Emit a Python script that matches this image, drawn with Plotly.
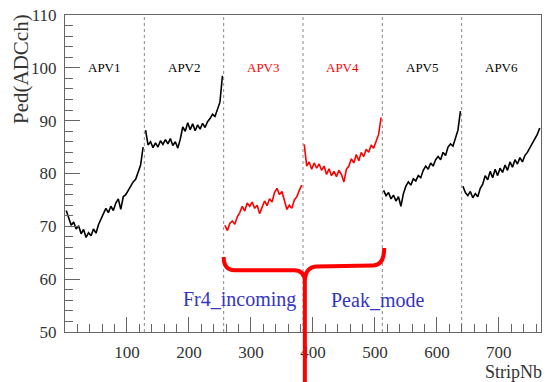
import plotly.graph_objects as go

# ---------------- data ----------------
apv_names = ["APV1", "APV2", "APV3", "APV4", "APV5", "APV6"]
apv_colors = ["black", "black", "red", "red", "black", "black"]
strips_per_apv = 128
step = 4  # one value read every 4 strips (bin centres)

apv1 = [73.0, 71.5, 70.2, 70.8, 69.5, 70.1, 68.6, 69.4, 67.9, 68.8, 68.2, 69.5, 68.7, 70.3, 71.2, 72.4,
        73.4, 72.6, 73.8, 73.0, 74.4, 75.2, 73.2, 75.6, 76.0, 76.9, 77.6, 78.4, 78.9, 80.2, 81.6, 85.0]
apv2 = [88.2, 85.4, 86.0, 84.9, 85.8, 85.0, 86.2, 85.5, 86.4, 85.6, 86.6, 85.3, 86.0, 84.8, 86.5, 88.8,
        88.0, 89.6, 88.3, 89.4, 88.1, 89.2, 88.4, 89.5, 88.7, 89.8, 90.4, 91.2, 90.8, 92.3, 93.5, 98.5]
apv3 = [70.2, 69.2, 70.6, 71.0, 70.4, 71.8, 72.6, 73.8, 72.9, 74.4, 73.8, 74.6, 73.4, 74.0, 72.4, 73.6,
        74.8, 73.9, 75.2, 74.6, 76.4, 77.2, 76.0, 76.6, 74.6, 73.2, 74.0, 73.4, 75.0, 75.6, 76.8, 77.8]
apv4 = [85.5, 81.4, 82.2, 80.8, 82.0, 81.0, 81.8, 80.6, 81.4, 79.8, 80.9, 79.6, 80.4, 79.4, 80.6, 79.8,
        78.4, 80.8, 81.4, 82.8, 82.0, 83.6, 82.4, 84.0, 83.2, 84.6, 84.0, 85.4, 84.8, 86.2, 87.4, 90.6]
apv5 = [76.8, 75.8, 76.4, 75.2, 75.9, 74.8, 75.6, 73.8, 76.2, 77.6, 78.4, 77.8, 79.0, 78.6, 79.6, 79.2,
        80.6, 81.4, 80.8, 82.0, 81.4, 82.6, 83.2, 82.6, 84.0, 83.4, 85.0, 85.6, 85.2, 86.8, 88.2, 91.8]
apv6 = [77.6, 76.4, 75.8, 76.6, 75.4, 76.2, 75.6, 77.2, 78.0, 79.6, 78.8, 80.4, 79.2, 80.8, 79.6, 81.0,
        80.2, 81.6, 80.6, 82.2, 81.2, 82.6, 81.8, 83.0, 82.2, 83.4, 84.0, 84.8, 85.6, 86.4, 87.4, 88.6]
apv_values = [apv1, apv2, apv3, apv4, apv5, apv6]

x_tickvals = [0, 100, 200, 300, 400, 500, 600, 700]
x_ticktext = ["", "100", "200", "300", "400", "500", "600", "700"]
y_tickvals = [50, 60, 70, 80, 90, 100, 110]

note_left = "Fr4_incoming"
note_right = "Peak_mode"

# ---------------- figure ----------------
FONT = "'Liberation Serif', 'Times New Roman', 'DejaVu Serif', serif"
fig = go.Figure()

for k, (name, vals, col) in enumerate(zip(apv_names, apv_values, apv_colors)):
    xs = [k * strips_per_apv + step // 2 + step * j for j in range(len(vals))]
    fig.add_trace(go.Scatter(x=xs, y=vals, mode="lines", line=dict(color=col, width=1.6),
                             name=name, showlegend=False, hoverinfo="skip"))
    fig.add_annotation(x=k * strips_per_apv + strips_per_apv / 2, y=100, xref="x", yref="y",
                       text=name, showarrow=False, font=dict(family=FONT, size=13, color=col))

# APV boundaries (dotted)
for k in range(1, len(apv_names)):
    fig.add_shape(type="line", xref="x", yref="paper", x0=k * strips_per_apv, x1=k * strips_per_apv,
                  y0=0, y1=1, line=dict(color="#888888", width=1, dash="dot"), layer="below")

# notes
fig.add_annotation(x=282, y=56.1, xref="x", yref="y", text=note_left, showarrow=False,
                   font=dict(family=FONT, size=20, color="#3535c0"))
fig.add_annotation(x=505, y=56.1, xref="x", yref="y", text=note_right, showarrow=False,
                   font=dict(family=FONT, size=20, color="#3535c0"))

# red curly brace under APV3+APV4
def py(v):
    return (v - 50) / 60.0

xl, xc, xr = 2 * strips_per_apv, 3 * strips_per_apv + 3, 4 * strips_per_apv + 3
path = (f"M {xl},{py(64.2)} Q {xl},{py(61.7)} {xl+18},{py(61.7)} "
        f"L {xc-18},{py(61.7)} Q {xc},{py(61.7)} {xc},{py(59.5)} L {xc},-0.17 "
        f"M {xc},{py(59.5)} Q {xc},{py(62.2)} {xc+18},{py(62.4)} "
        f"L {xr-18},{py(62.6)} Q {xr},{py(62.6)} {xr},{py(65.9)}")
fig.add_shape(type="path", xref="x", yref="paper", path=path,
              line=dict(color="#ff0000", width=4))

# axis titles
fig.add_annotation(text="Ped(ADCch)", xref="paper", yref="paper", x=0, y=1, xshift=-44, yshift=3,
                   xanchor="center", yanchor="top", textangle=-90, showarrow=False,
                   font=dict(family=FONT, size=21, color="#333333"))
fig.add_annotation(text="StripNb", xref="paper", yref="paper", x=1, y=-0.126, xshift=3,
                   xanchor="right", yanchor="middle", showarrow=False,
                   font=dict(family=FONT, size=18, color="#333333"))

axis_common = dict(showgrid=False, zeroline=False, showline=True, linecolor="#666666", linewidth=1,
                   mirror=True, ticks="inside", tickcolor="#666666", tickwidth=1, ticklen=15,
                   tickfont=dict(family=FONT, size=17, color="#333333"))
fig.update_xaxes(range=[0, 768], tickmode="array", tickvals=x_tickvals, ticktext=x_ticktext,
                 ticklabelstandoff=5,
                 minor=dict(tickmode="linear", tick0=0, dtick=20, ticks="inside", ticklen=8,
                            tickcolor="#666666"),
                 **axis_common)
fig.update_yaxes(range=[50, 110], tickmode="array", tickvals=y_tickvals, ticklabelstandoff=4,
                 minor=dict(tickmode="linear", tick0=50, dtick=2, ticks="inside", ticklen=8,
                            tickcolor="#666666"),
                 **axis_common)

fig.update_layout(width=546, height=382, margin=dict(l=65, r=5, t=15, b=50),
                  plot_bgcolor="white", paper_bgcolor="white", showlegend=False,
                  font=dict(family=FONT))

fig.write_html("out.html")
